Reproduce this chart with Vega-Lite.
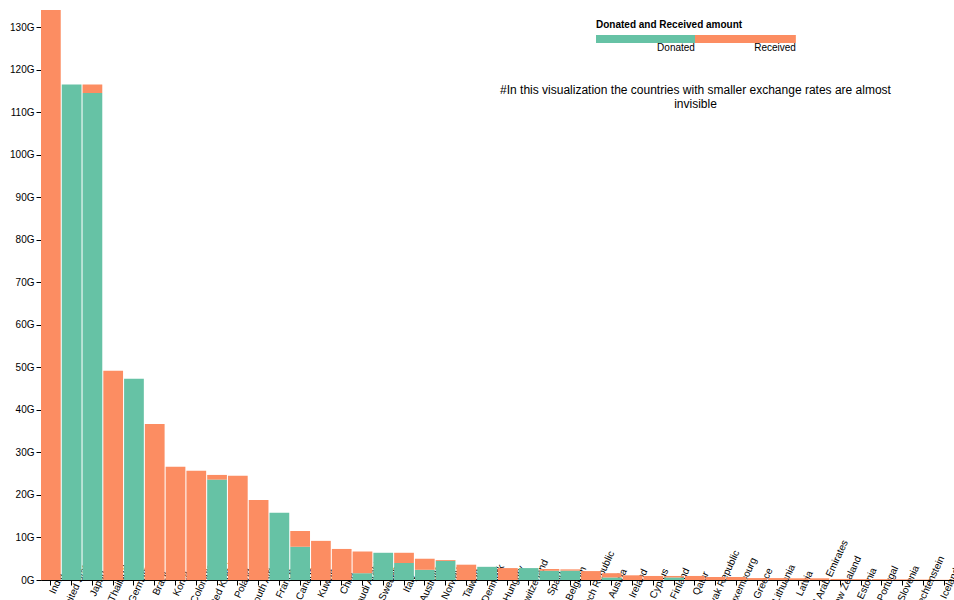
{
  "$schema": "https://vega.github.io/schema/vega-lite/v6.json",
  "width": 913,
  "height": 570,
  "autosize": "none",
  "padding": {"left": 41, "top": 10, "right": 0, "bottom": 20},
  "config": {"view": {"stroke": null}, "font": "Liberation Sans"},
  "title": {
    "text": ["#In this visualization the countries with smaller exchange rates are almost", "invisible"],
    "frame": "group", "anchor": "middle", "dx": 198, "dy": 105,
    "fontSize": 12, "fontWeight": "normal", "color": "#000"
  },
  "data": {
    "values": [
      {"Country": "India", "Donated": 0, "Received": 134e9},
      {"Country": "United States", "Donated": 116.5e9, "Received": 0},
      {"Country": "Japan", "Donated": 114.5e9, "Received": 2.0e9},
      {"Country": "Thailand", "Donated": 0, "Received": 49.2e9},
      {"Country": "Germany", "Donated": 47.3e9, "Received": 0},
      {"Country": "Brazil", "Donated": 0, "Received": 36.7e9},
      {"Country": "Korea", "Donated": 0, "Received": 26.6e9},
      {"Country": "Colombia", "Donated": 0, "Received": 25.7e9},
      {"Country": "United Kingdom", "Donated": 23.6e9, "Received": 1.1e9},
      {"Country": "Poland", "Donated": 0, "Received": 24.5e9},
      {"Country": "South Africa", "Donated": 0, "Received": 18.8e9},
      {"Country": "France", "Donated": 15.8e9, "Received": 0},
      {"Country": "Canada", "Donated": 7.8e9, "Received": 3.7e9},
      {"Country": "Kuwait", "Donated": 0, "Received": 9.2e9},
      {"Country": "Chile", "Donated": 0, "Received": 7.3e9},
      {"Country": "Saudi Arabia", "Donated": 1.6e9, "Received": 5.1e9},
      {"Country": "Sweden", "Donated": 6.4e9, "Received": 0},
      {"Country": "Italy", "Donated": 4.0e9, "Received": 2.4e9},
      {"Country": "Australia", "Donated": 2.4e9, "Received": 2.6e9},
      {"Country": "Norway", "Donated": 4.5e9, "Received": 0.2e9},
      {"Country": "Taiwan", "Donated": 0, "Received": 3.6e9},
      {"Country": "Denmark", "Donated": 3.1e9, "Received": 0},
      {"Country": "Hungary", "Donated": 0, "Received": 2.8e9},
      {"Country": "Switzerland", "Donated": 2.8e9, "Received": 0},
      {"Country": "Spain", "Donated": 2.2e9, "Received": 0.4e9},
      {"Country": "Belgium", "Donated": 2.2e9, "Received": 0.3e9},
      {"Country": "Czech Republic", "Donated": 0, "Received": 2.1e9},
      {"Country": "Austria", "Donated": 0.6e9, "Received": 1.0e9},
      {"Country": "Ireland", "Donated": 0, "Received": 1.1e9},
      {"Country": "Cyprus", "Donated": 0, "Received": 0.95e9},
      {"Country": "Finland", "Donated": 0.6e9, "Received": 0.35e9},
      {"Country": "Qatar", "Donated": 0, "Received": 0.95e9},
      {"Country": "Slovak Republic", "Donated": 0, "Received": 0.7e9},
      {"Country": "Luxembourg", "Donated": 0, "Received": 0.7e9},
      {"Country": "Greece", "Donated": 0, "Received": 0.45e9},
      {"Country": "Lithuania", "Donated": 0, "Received": 0.45e9},
      {"Country": "Latvia", "Donated": 0, "Received": 0.4e9},
      {"Country": "United Arab Emirates", "Donated": 0, "Received": 0.4e9},
      {"Country": "New Zealand", "Donated": 0, "Received": 0.25e9},
      {"Country": "Estonia", "Donated": 0, "Received": 0.2e9},
      {"Country": "Portugal", "Donated": 0, "Received": 0.2e9},
      {"Country": "Slovenia", "Donated": 0, "Received": 0.15e9},
      {"Country": "Liechtenstein", "Donated": 0, "Received": 0.1e9},
      {"Country": "Iceland", "Donated": 0, "Received": 0.05e9}
    ]
  },
  "transform": [{"fold": ["Donated", "Received"], "as": ["Type", "Amount"]}],
  "mark": {"type": "bar"},
  "encoding": {
    "x": {
      "field": "Country", "type": "nominal", "sort": null,
      "scale": {"paddingInner": 0.05, "paddingOuter": 0},
      "axis": {"title": null, "labelAngle": -65, "labelAlign": "center", "labelBaseline": "middle", "labelOffset": 6, "labelPadding": -2, "labelFontSize": 10, "labelColor": "#000", "domainColor": "#000", "tickColor": "#000", "labelOverlap": false}
    },
    "y": {
      "field": "Amount", "type": "quantitative", "stack": "zero",
      "scale": {"domain": [0, 134e9], "nice": false},
      "axis": {"title": null, "format": "~s", "values": [0, 1e10, 2e10, 3e10, 4e10, 5e10, 6e10, 7e10, 8e10, 9e10, 1e11, 1.1e11, 1.2e11, 1.3e11], "grid": false, "labelFontSize": 10, "labelColor": "#000", "domainColor": "#000", "tickColor": "#000"}
    },
    "color": {
      "field": "Type", "type": "nominal",
      "scale": {"domain": ["Donated", "Received"], "range": ["#66c2a5", "#fc8d62"]},
      "legend": {
        "title": "Donated and Received amount", "orient": "none", "legendX": 555, "legendY": 10,
        "direction": "horizontal", "symbolType": "M-1,-0.12H1V0H-1Z", "symbolSize": 25600, "clipHeight": 16,
        "symbolStrokeWidth": 0, "symbolOpacity": 1, "labelAlign": "center", "labelOffset": -80,
        "labelBaseline": "top", "columnPadding": 0, "labelFontSize": 10, "titleFontSize": 10, "titleColor": "#000", "labelColor": "#000"
      }
    },
    "order": {"field": "Type", "sort": "ascending"}
  }
}
